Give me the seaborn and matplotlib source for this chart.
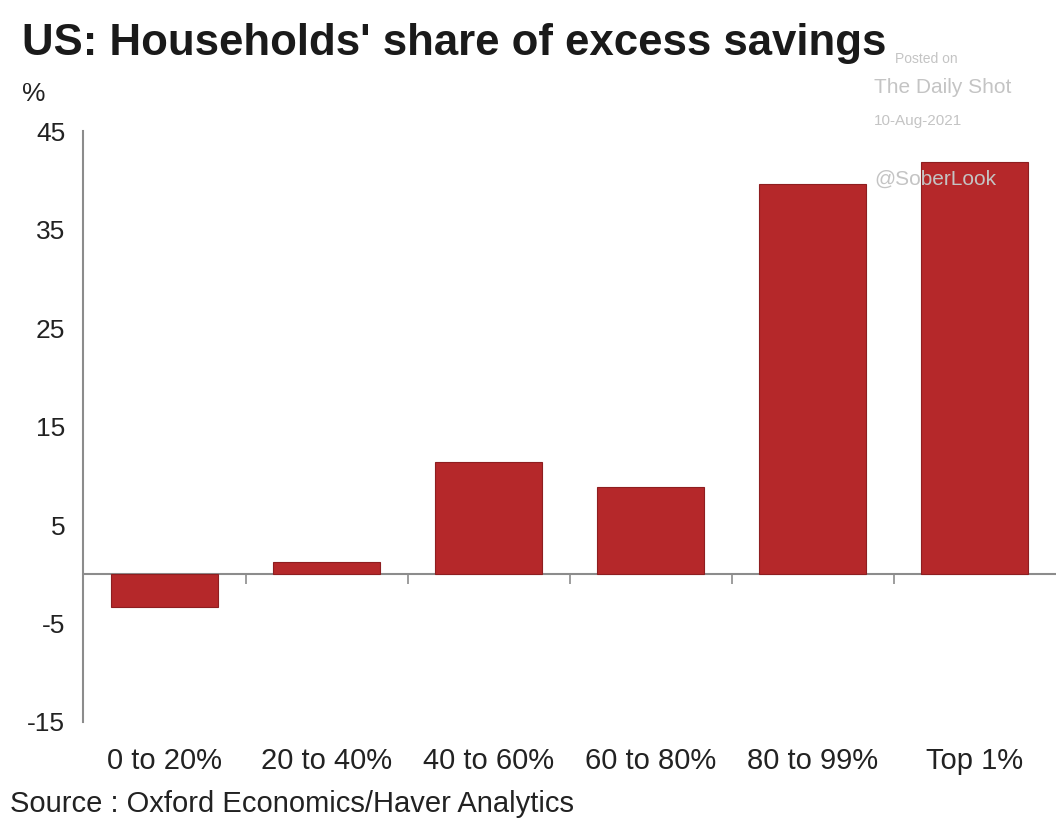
import matplotlib.pyplot as plt
import seaborn as sns
import pandas as pd

# data
groups = ["0 to 20%", "20 to 40%", "40 to 60%", "60 to 80%", "80 to 99%", "Top 1%"]
share = [-3.3, 1.25, 11.4, 8.9, 39.7, 41.9]
yticks = [45, 35, 25, 15, 5, -5, -15]

df = pd.DataFrame({"group": groups, "share": share})

sns.set_style("white")
plt.rcParams["font.family"] = ["Liberation Sans", "DejaVu Sans"]

bar_color = "#B5282A"
axis_gray = "#8C8C8C"

fig = plt.figure(figsize=(10.56, 8.21), dpi=100)
ax = fig.add_axes([0.079, 0.1206, 0.921, 0.7194])

sns.barplot(data=df, x="group", y="share", color=bar_color, saturation=1,
            width=0.66, edgecolor="#8E1E20", linewidth=0.8, ax=ax)

ax.set_ylim(-15, 45)
ax.set_xlim(-0.5, len(groups) - 0.5)
ax.set_yticks(yticks)
ax.set_yticklabels([str(t) for t in yticks], fontsize=19, color="#222222")
ax.tick_params(axis="y", direction="out", length=7, width=1.2, color=axis_gray, pad=6)
ax.set_xticks(range(len(groups)))
ax.set_xticklabels(groups, fontsize=21, color="#222222")
ax.tick_params(axis="x", length=0, pad=18)
ax.set_xlabel("")
ax.set_ylabel("")

for s in ["top", "right", "bottom"]:
    ax.spines[s].set_visible(False)
ax.spines["left"].set_color(axis_gray)
ax.spines["left"].set_linewidth(1.5)

# zero line with category separators
ax.axhline(0, color=axis_gray, lw=1.5, zorder=0)
zero = ax.secondary_xaxis(15 / 60)
zero.set_xticks([i + 0.5 for i in range(len(groups) - 1)])
zero.set_xticklabels([])
zero.tick_params(direction="out", length=7, width=1.2, color=axis_gray)
zero.spines["bottom"].set_visible(False)
zero.spines["top"].set_visible(False)

# watermark
wm = "#C4C4C4"
fig.text(0.848, 0.928, "Posted on", fontsize=10, color=wm, va="center")
fig.text(0.828, 0.893, "The Daily Shot", fontsize=15, color=wm, va="center")
fig.text(0.828, 0.853, "10-Aug-2021", fontsize=11, color=wm, va="center")
fig.text(0.828, 0.782, "@SoberLook", fontsize=15, color=wm, va="center", zorder=5)

fig.text(0.021, 0.947, "US: Households' share of excess savings", fontsize=31.5,
         fontweight="bold", color="#1a1a1a", va="center")
fig.text(0.021, 0.885, "%", fontsize=19, color="#222222", va="center")
fig.text(0.009, 0.021, "Source : Oxford Economics/Haver Analytics", fontsize=21,
         color="#222222", va="center")

fig.savefig("out.png", dpi=100)
